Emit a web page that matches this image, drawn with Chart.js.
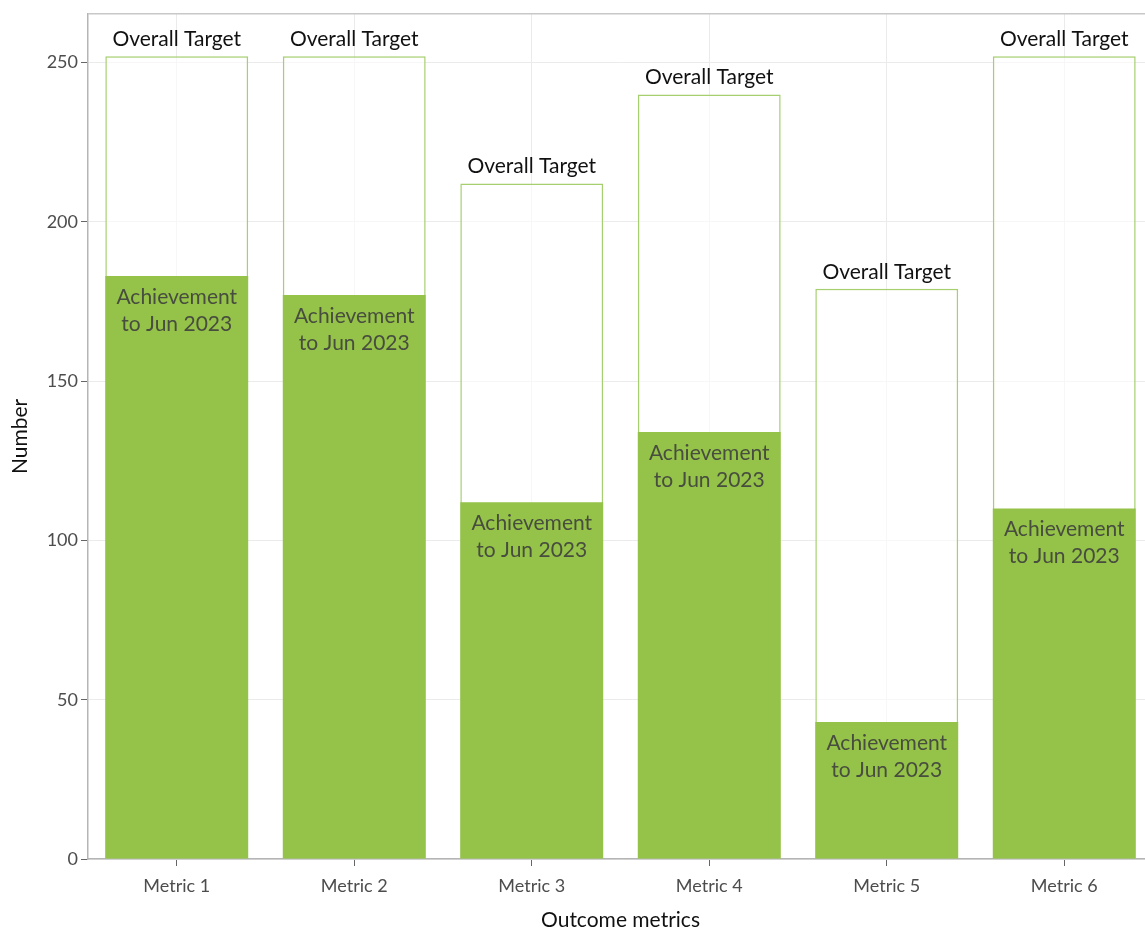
<!DOCTYPE html>
<html>
<head>
<meta charset="utf-8">
<script src="https://cdn.jsdelivr.net/npm/chart.js@4.4.1/dist/chart.umd.min.js"></script>
<style>
  html, body { margin: 0; padding: 0; background: #ffffff; overflow: hidden; }
  #wrap { position: relative; width: 1154px; height: 931px; }
</style>
</head>
<body>
<div id="wrap"><canvas id="chart"></canvas></div>
<script>
/* data */
const metrics = ['Metric 1', 'Metric 2', 'Metric 3', 'Metric 4', 'Metric 5', 'Metric 6'];
const targets = [252, 252, 212, 240, 179, 252];
const achieved = [183, 177, 112, 134, 43, 110];
const yTicks = [0, 50, 100, 150, 200, 250];

const GREEN = '#95c248';
const GRID = '#ebebeb';
const AXIS = '#b5b5b5';

Chart.defaults.font.family = 'Lato, "Open Sans", sans-serif';
Chart.defaults.color = '#4d4d4d';

// bar labels + top frame line
const labelPlugin = {
  id: 'barLabels',
  afterDatasetsDraw(chart) {
    const ctx = chart.ctx;
    const area = chart.chartArea;
    ctx.save();
    ctx.strokeStyle = '#c8c8c8';
    ctx.lineWidth = 1.5;
    ctx.beginPath();
    ctx.moveTo(area.left, area.top);
    ctx.lineTo(area.right, area.top);
    ctx.stroke();

    ctx.textAlign = 'center';
    ctx.textBaseline = 'middle';

    const tMeta = chart.getDatasetMeta(1);
    ctx.fillStyle = '#111111';
    ctx.font = '21px Lato';
    tMeta.data.forEach(function (bar) {
      ctx.fillText('Overall Target', bar.x, bar.y - 17);
    });

    const aMeta = chart.getDatasetMeta(0);
    ctx.fillStyle = '#474d3f';
    ctx.font = '21px Lato';
    aMeta.data.forEach(function (bar) {
      ctx.fillText('Achievement', bar.x, bar.y + 21);
      ctx.fillText('to Jun 2023', bar.x, bar.y + 48);
    });
    ctx.restore();
  }
};

new Chart(document.getElementById('chart'), {
  type: 'bar',
  data: {
    labels: metrics,
    datasets: [
      {
        label: 'Achievement to Jun 2023',
        data: achieved,
        backgroundColor: GREEN,
        borderWidth: 0,
        grouped: false,
        barPercentage: 0.805,
        categoryPercentage: 1,
      },
      {
        label: 'Overall Target',
        data: targets,
        backgroundColor: 'rgba(255,255,255,0.6)',
        borderColor: '#a6cf70',
        borderWidth: 1.5,
        borderSkipped: false,
        grouped: false,
        barPercentage: 0.805,
        categoryPercentage: 1,
      },
    ],
  },
  options: {
    responsive: true,
    maintainAspectRatio: false,
    animation: false,
    layout: { padding: { top: 10, right: 1, left: 0, bottom: 0 } },
    plugins: {
      legend: { display: false },
      tooltip: { enabled: false },
    },
    scales: {
      x: {
        grid: { color: GRID, offset: false, tickLength: 7, tickColor: '#666666', lineWidth: 1 },
        border: { color: AXIS, width: 1.5 },
        ticks: { font: { size: 18 }, color: '#4d4d4d', padding: 9 },
        title: { display: true, text: 'Outcome metrics', font: { size: 21 }, color: '#111111', padding: { top: 4, bottom: -2 } },
        afterFit(scale) { scale.height = 72; },
      },
      y: {
        min: 0,
        max: 265.3,
        afterBuildTicks(scale) { scale.ticks = yTicks.map(v => ({ value: v })); },
        grid: { color: GRID, tickLength: 7, tickColor: '#666666', lineWidth: 1 },
        border: { color: AXIS, width: 1.5 },
        ticks: { font: { size: 18 }, color: '#4d4d4d', padding: 3 },
        title: { display: true, text: 'Number', font: { size: 21 }, color: '#111111', padding: { top: 8, bottom: 4 } },
        afterFit(scale) { scale.width = 88; },
      },
    },
  },
  plugins: [labelPlugin],
});
</script>
</body>
</html>
